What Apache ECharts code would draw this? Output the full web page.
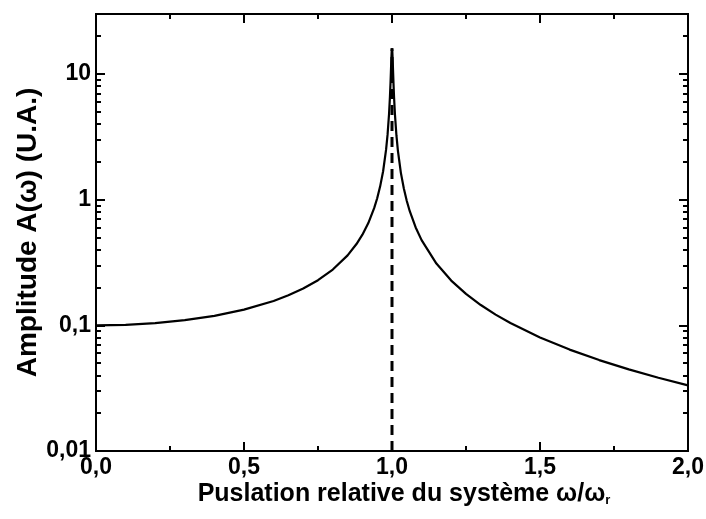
<!DOCTYPE html>
<html>
<head>
<meta charset="utf-8">
<script src="https://cdn.jsdelivr.net/npm/echarts@6/dist/echarts.min.js"></script>
<style>
html,body{margin:0;padding:0;background:#fff;}
#chart{width:706px;height:519px;}
</style>
</head>
<body>
<div id="chart"></div>
<script>
// relative pulsation ω/ωr
const omega = [0, 0.1, 0.2, 0.3, 0.4, 0.5, 0.6, 0.65, 0.7, 0.75, 0.8, 0.85, 0.88, 0.9, 0.92, 0.94, 0.95, 0.96, 0.97, 0.98, 0.985, 0.99, 0.993, 0.995, 0.998, 0.999, 1.0, 1.001, 1.002, 1.005, 1.007, 1.01, 1.015, 1.02, 1.03, 1.04, 1.05, 1.06, 1.08, 1.1, 1.15, 1.2, 1.25, 1.3, 1.35, 1.4, 1.5, 1.6, 1.7, 1.8, 1.9, 2.0];
// amplitude A(ω) (U.A.)
const amplitude = [0.1, 0.101, 0.1042, 0.1099, 0.119, 0.1333, 0.1563, 0.1732, 0.1961, 0.2286, 0.2778, 0.3604, 0.4433, 0.5263, 0.651, 0.859, 1.026, 1.276, 1.683, 2.496, 3.29, 4.8, 6.55, 8.5, 13.5, 15.25, 16.0, 15.23, 13.45, 8.45, 6.5, 4.75, 3.24, 2.445, 1.633, 1.225, 0.9756, 0.809, 0.601, 0.476, 0.31, 0.227, 0.178, 0.145, 0.1216, 0.1042, 0.08, 0.0641, 0.0529, 0.0446, 0.0383, 0.0333];
// dashed resonance marker
const resonanceX = [1.0, 1.0];
const resonanceY = [0.01, 16.0];
// axis ticks
const xTicks = [0, 0.5, 1.0, 1.5, 2.0];
const yMajorTicks = [0.01, 0.1, 1, 10];
const yMinorTicks = [0.02,0.03,0.04,0.05,0.06,0.07,0.08,0.09,0.2,0.3,0.4,0.5,0.6,0.7,0.8,0.9,2,3,4,5,6,7,8,9,20];

const curveData = omega.map((x, i) => [x, amplitude[i]]);
const dashData = resonanceX.map((x, i) => [x, resonanceY[i]]);

const FONT = 'Liberation Sans';
const black = '#000';

function yFmt(v) {
  if (v >= 1) return String(Math.round(v));
  return String(+v.toPrecision(3)).replace('.', ',');
}
function xFmt(v) { return Number(v).toFixed(1).replace('.', ','); }

const baseY = {
  type: 'log', logBase: 10, min: 0.01, max: 30,
  splitLine: {show: false}, minorSplitLine: {show: false},
  axisLine: {show: true, onZero: false, lineStyle: {color: black, width: 2}},
};
const yAxes = [
  Object.assign({}, baseY, {
    position: 'left',
    name: 'Amplitude A(\u03c9) (U.A.)',
    nameLocation: 'middle', nameRotate: 90, nameGap: 54, nameMoveOverlap: false,
    nameTextStyle: {fontFamily: FONT, fontWeight: 'bold', fontSize: 28, color: black},
    axisTick: {show: true, inside: true, length: 9, customValues: yMajorTicks, lineStyle: {color: black, width: 2}},
    axisLabel: {show: true, customValues: yMajorTicks, formatter: yFmt, margin: 5, fontFamily: FONT, fontWeight: 'bold', fontSize: 23, color: black},
  }),
  Object.assign({}, baseY, {
    position: 'left',
    axisTick: {show: true, inside: true, length: 5, customValues: yMinorTicks, lineStyle: {color: black, width: 2}},
    axisLabel: {show: false},
  }),
  Object.assign({}, baseY, {
    position: 'right',
    axisTick: {show: true, inside: true, length: 9, customValues: yMajorTicks, lineStyle: {color: black, width: 2}},
    axisLabel: {show: false},
  }),
  Object.assign({}, baseY, {
    position: 'right',
    axisTick: {show: true, inside: true, length: 5, customValues: yMinorTicks, lineStyle: {color: black, width: 2}},
    axisLabel: {show: false},
  }),
];

const baseX = {
  type: 'value', min: 0, max: 2, interval: 0.5,
  splitLine: {show: false}, minorSplitLine: {show: false},
  axisLine: {show: true, onZero: false, lineStyle: {color: black, width: 2}},
  axisTick: {show: true, inside: true, length: 9, lineStyle: {color: black, width: 2}},
  minorTick: {show: true, splitNumber: 2, length: 5, lineStyle: {color: black, width: 2}},
};
const xAxes = [
  Object.assign({}, baseX, {
    position: 'bottom',
    name: 'Puslation relative du syst\u00e8me \u03c9/\u03c9{sub|r}',
    nameLocation: 'middle', nameGap: 31, nameMoveOverlap: false,
    nameTextStyle: {fontFamily: FONT, fontWeight: 'bold', fontSize: 25, color: black, padding: [0, 0, 0, 24],
      rich: {sub: {fontFamily: FONT, fontWeight: 'bold', fontSize: 13, color: black, verticalAlign: 'bottom', lineHeight: 13, padding: [17, 0, 0, 0]}}},
    axisLabel: {show: true, formatter: xFmt, margin: 5, fontFamily: FONT, fontWeight: 'bold', fontSize: 23, color: black,
      customValues: xTicks},
  }),
  Object.assign({}, baseX, {
    position: 'top',
    axisLabel: {show: false},
  }),
];
xAxes.forEach(a => { a.minorTick = Object.assign({}, a.minorTick, {inside: true}); });

const chart = echarts.init(document.getElementById('chart'), null, {renderer: 'canvas'});
chart.setOption({
  animation: false,
  backgroundColor: '#fff',
  grid: {left: 96, right: 18, top: 14, bottom: 68, containLabel: false, outerBoundsMode: 'none'},
  xAxis: xAxes,
  yAxis: yAxes,
  series: [
    {
      type: 'line', xAxisIndex: 0, yAxisIndex: 0, data: dashData,
      showSymbol: false, symbol: 'none',
      lineStyle: {color: black, width: 3, type: [10, 6]},
    },
    {
      type: 'line', xAxisIndex: 0, yAxisIndex: 0, data: curveData,
      showSymbol: false, symbol: 'none', smooth: false,
      lineStyle: {color: black, width: 2.2},
    },
  ],
});
</script>
</body>
</html>
